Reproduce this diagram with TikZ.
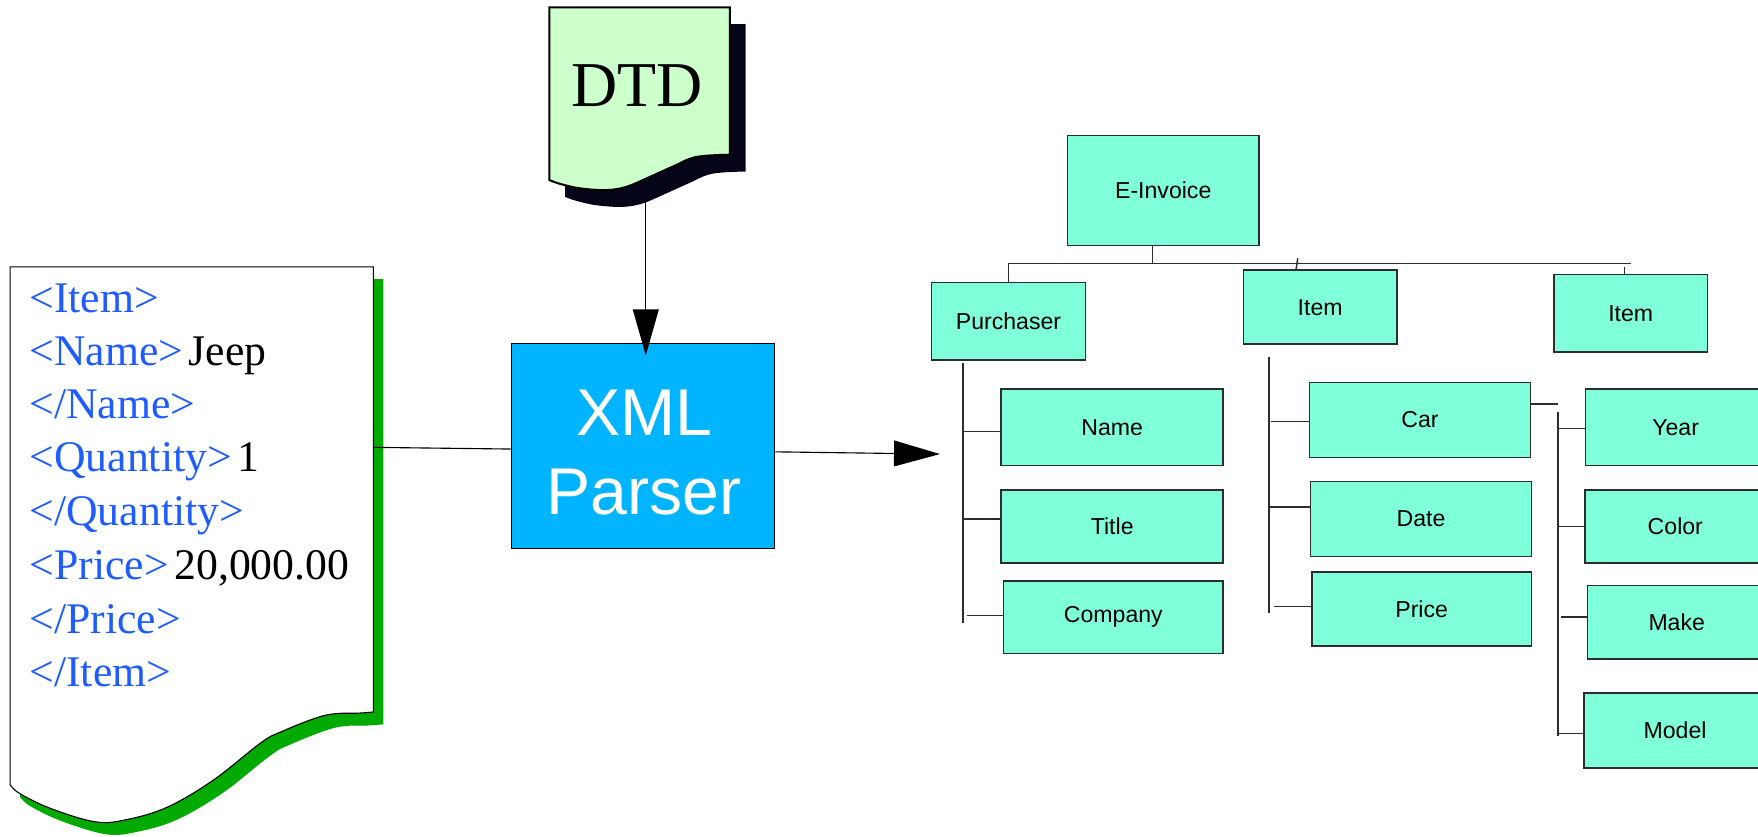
\documentclass[tikz,border=0pt]{standalone}
\usepackage{fontspec}
\setmainfont{Liberation Serif}
\setsansfont{Liberation Sans}
\usetikzlibrary{arrows.meta,calc}
\definecolor{tagblue}{RGB}{31,92,255}
\definecolor{aqua}{RGB}{127,255,218}
\definecolor{parserblue}{RGB}{0,180,255}
\definecolor{dtdgreen}{RGB}{204,255,204}
\definecolor{docgreen}{RGB}{0,170,0}
\definecolor{dtdshadow}{RGB}{5,5,25}
\definecolor{treegray}{RGB}{45,45,45}
\begin{document}
\begin{tikzpicture}[x=0.5pt,y=-0.5pt,
  treebox/.style={draw=treegray, fill=aqua, line width=0.7pt, inner sep=0pt,
    font=\sffamily\fontsize{10.3}{12}\selectfont},
  treeline/.style={draw=treegray, line width=0.65pt},
  doctext/.style={anchor=base west, inner sep=0pt, font=\fontsize{19.5}{23}\selectfont},
  bigarrow/.style={line width=0.5pt, -{Triangle[length=20.5pt,width=11.5pt]}},
  plainline/.style={line width=0.5pt}]
\useasboundingbox (0,0) rectangle (1568,745.7);

% ---------- XML document ----------
\begin{scope}[shift={(9,11)}]
\fill[docgreen] (9,238) -- (333,238) -- (333,635) -- plot[smooth, tension=0.6] coordinates {(333,635) (321,636) (290,638) (250,653) (232,663) (190,696) (149,720) (113,731) (85,733) (45,721) (18,708) (9,700)} -- cycle;
\end{scope}
\draw[fill=white, line width=0.5pt] (9,238) -- (333,238) -- (333,635) -- plot[smooth, tension=0.6] coordinates {(333,635) (321,636) (290,638) (250,653) (232,663) (190,696) (149,720) (113,731) (85,733) (45,721) (18,708) (9,700)} -- cycle;

\node[doctext] (l1) at (26,279) {\textcolor{tagblue}{<Item>}};
\node[doctext] (l2) at (26,326.2) {\textcolor{tagblue}{<Name>}\hspace{2.5pt}Jeep};
\node[doctext] (l3) at (26,373.2) {\textcolor{tagblue}{</Name>}};
\node[doctext] (l4) at (26,420.7) {\textcolor{tagblue}{<Quantity>}\hspace{2.5pt}1};
\node[doctext] (l5) at (26,468.3) {\textcolor{tagblue}{</Quantity>}};
\node[doctext] (l6) at (26,517.3) {\textcolor{tagblue}{<Price>}\hspace{2.5pt}20,000.00};
\node[doctext] (l7) at (26,564.9) {\textcolor{tagblue}{</Price>}};
\node[doctext] (l8) at (26,612.4) {\textcolor{tagblue}{</Item>}};
\coordinate (docout) at (333,399);

% ---------- DTD ----------
\begin{scope}[shift={(14,15)}]
\fill[dtdshadow] (490,6.5) -- (651,6.5) -- (651,138) -- plot[smooth, tension=0.6] coordinates {(651,138) (621,140) (600,148.6) (580,157.6) (559,166.5) (541,169.5) (517.4,168) (499.6,164) (490,160.6)} -- cycle;
\end{scope}
\draw[fill=dtdgreen, line width=0.9pt] (490,6.5) -- (651,6.5) -- (651,138) -- plot[smooth, tension=0.6] coordinates {(651,138) (621,140) (600,148.6) (580,157.6) (559,166.5) (541,169.5) (517.4,168) (499.6,164) (490,160.6)} -- cycle;
\node[anchor=base, inner sep=0pt, font=\fontsize{28.5}{34}\selectfont] (dtdtext) at (568.5,95) {DTD};
\coordinate (dtdout) at (576,170);

% ---------- XML Parser ----------
\node[draw=black, line width=0.5pt, fill=parserblue, minimum width=117.5pt, minimum height=91.5pt, inner sep=0pt] (parser) at (573.5,397.5) {};
\node[anchor=base, inner sep=0pt, text=white, font=\sffamily\fontsize{29.5}{35}\selectfont] (xmlA) at (574.5,388.6) {XML};
\node[anchor=base, inner sep=0pt, text=white, font=\sffamily\fontsize{29.5}{35}\selectfont] (xmlB) at (574.5,459) {Parser};

\draw[plainline] (docout) -- ($(parser.west)+(0,3)$);
\draw[bigarrow] (dtdout) -- ($(parser.north)+(2.5,11.5)$);
\coordinate (treein) at (838.4,405);
\draw[bigarrow] ($(parser.east)+(0,5.5)$) -- (treein);

% ---------- Tree ----------
\node[treebox, minimum width=85.5pt, minimum height=49pt] (einv) at (1037.5,170) {E-Invoice};
\node[treebox, minimum width=68.5pt, minimum height=34.5pt] (purch) at (899.5,286.5) {Purchaser};
\node[treebox, minimum width=68.5pt, minimum height=33pt] (itemA) at (1177.5,274) {Item};
\node[treebox, minimum width=68.5pt, minimum height=34.5pt] (itemB) at (1454.5,279.5) {Item};
\node[treebox, minimum width=99pt, minimum height=34pt] (name) at (992,381) {Name};
\node[treebox, minimum width=99pt, minimum height=32.5pt] (title) at (992,469.5) {Title};
\node[treebox, minimum width=98pt, minimum height=32.5pt] (company) at (993,550.5) {Company};
\node[treebox, minimum width=98.5pt, minimum height=33.5pt] (car) at (1266.5,374.5) {Car};
\node[treebox, minimum width=98.5pt, minimum height=33.5pt] (date) at (1267.5,463) {Date};
\node[treebox, minimum width=98pt, minimum height=33pt] (price) at (1268,543.3) {Price};
\node[treebox, minimum width=80.5pt, minimum height=34pt] (year) at (1494.5,381) {Year};
\node[treebox, minimum width=80.75pt, minimum height=32.5pt] (color) at (1494.25,469.5) {Color};
\node[treebox, minimum width=79.5pt, minimum height=32.7pt] (make) at (1495.5,555) {Make};
\node[treebox, minimum width=81pt, minimum height=33.5pt] (model) at (1494,651.5) {Model};

\coordinate (busL) at (900,235);
\coordinate (busR) at (1455,235);
\draw[treeline] (busL) -- (busR);
\draw[treeline] ($(einv.south)+(-9.5,0)$) -- ++(0,16);
\draw[treeline] (purch.north) -- ++(0,-17);
\draw[treeline] ($(itemA.north)+(-21.5,0)$) -- ++(1.5,-10);
\draw[treeline] ($(itemB.north)+(-5.5,0)$) -- ++(0,-6);

\draw[treeline] ($(purch.south)+(-40.5,2)$) -- ++(0,232);
\draw[treeline] ($(name.west)+(0,4)$) -- ++(-33,0);
\draw[treeline] ($(title.west)+(0,-6.5)$) -- ++(-34,0);
\draw[treeline] ($(company.west)+(0,-1.5)$) -- ++(-32,0);

\draw[treeline] ($(itemA.south)+(-45.5,11)$) -- ++(0,228);
\draw[treeline] ($(car.west)+(0,1.5)$) -- ++(-34,0);
\draw[treeline] ($(date.west)+(0,-11)$) -- ++(-37,0);
\draw[treeline] ($(price.west)+(0,-2.3)$) -- ++(-33,0);

\draw[treeline] ($(car.east)+(0,-14)$) -- ++(24,0);
\draw[treeline] ($(car.east)+(24,-7)$) -- ++(0,289);
\draw[treeline] ($(year.west)+(0,1)$) -- ++(-24.5,0);
\draw[treeline] (color.west) -- ++(-23.5,0);
\draw[treeline] ($(make.west)+(0,-4.5)$) -- ++(-23,0);
\draw[treeline] ($(model.west)+(0,2.5)$) -- ++(-23,0);
\end{tikzpicture}
\end{document}
